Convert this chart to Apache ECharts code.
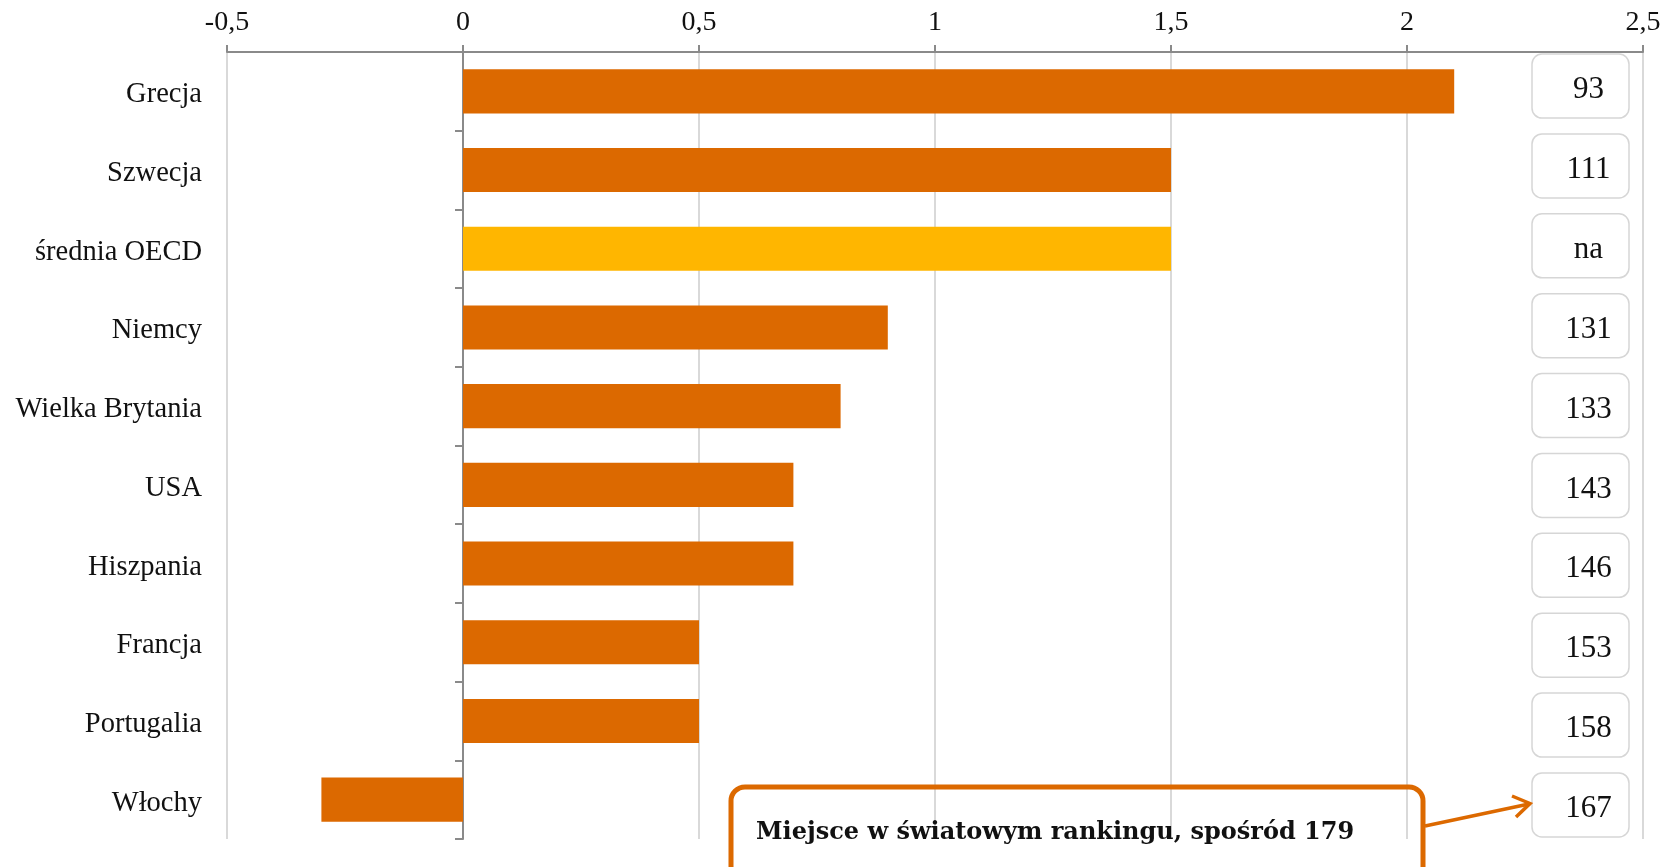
<!DOCTYPE html>
<html>
<head>
<meta charset="utf-8">
<script src="https://cdn.jsdelivr.net/npm/echarts@6/dist/echarts.min.js"></script>
<style>
html,body{margin:0;padding:0;background:#fff;}
#chart{width:1665px;height:867px;}
</style>
</head>
<body>
<div id="chart"></div>
<script>
const categories = ['Grecja','Szwecja','średnia OECD','Niemcy','Wielka Brytania','USA','Hiszpania','Francja','Portugalia','Włochy'];
const values = [2.1, 1.5, 1.5, 0.9, 0.8, 0.7, 0.7, 0.5, 0.5, -0.3];
const ranks = ['93','111','na','131','133','143','146','153','158','167'];
const highlight = 'średnia OECD';
const calloutText = 'Miejsce w światowym rankingu, spośród 179';

const ORANGE = '#DC6900';
const YELLOW = '#FFB600';
const FONT = '"Liberation Serif", serif';

const chart = echarts.init(document.getElementById('chart'));

const option = {
  animation: false,
  backgroundColor: '#fff',
  grid: { left: 227, right: 22, top: 52, bottom: 28 },
  xAxis: {
    type: 'value',
    position: 'top',
    min: -0.5, max: 2.5, interval: 0.5,
    axisLine: { show: true, onZero: false, lineStyle: { color: '#8a8a8a', width: 2 } },
    axisTick: { show: true, length: 7, lineStyle: { color: '#8a8a8a', width: 2 } },
    axisLabel: {
      margin: 15, color: '#111', fontFamily: FONT, fontSize: 28,
      formatter: v => String(v).replace('.', ',')
    },
    splitLine: { show: true, lineStyle: { color: '#cccccc', width: 1.5 } }
  },
  yAxis: [
    {
      type: 'category', inverse: true, data: categories,
      axisLine: { show: false, onZero: false },
      axisTick: { show: false },
      axisLabel: {
        margin: 25, color: '#111', fontFamily: FONT, fontSize: 28.5,
        formatter: v => '{l|' + v + '}',
        rich: { l: { fontFamily: FONT, fontSize: 28.5, color: '#111', padding: [7, 0, 0, 0] } }
      }
    },
    {
      type: 'category', inverse: true, data: categories, position: 'left',
      axisLine: { show: true, onZero: true, lineStyle: { color: '#8a8a8a', width: 2 } },
      axisTick: { show: true, length: 8, lineStyle: { color: '#8a8a8a', width: 2 } },
      axisLabel: { show: false }
    }
  ],
  series: [
    {
      type: 'bar', yAxisIndex: 0, barWidth: '56%',
      data: values.map((v, i) => ({
        value: v,
        itemStyle: { color: categories[i] === highlight ? YELLOW : ORANGE }
      })),
      z: 3
    },
    {
      type: 'custom', yAxisIndex: 0, clip: false, z: 4,
      data: ranks.map((r, i) => ({ value: [0, i], name: r })),
      renderItem: function (params, api) {
        const cs = params.coordSys;
        const mid = cs.y + cs.height / 2;
        const yc = mid + (api.coord([0, api.value(1)])[1] - mid) * 1.015;
        const right = cs.x + cs.width;
        const w = 97, h = 64;
        const x0 = right - 14 - w;
        return {
          type: 'group',
          children: [
            { type: 'rect', shape: { x: x0, y: yc - h / 2, width: w, height: h, r: 10 },
              style: { fill: '#fff', stroke: '#d6d6d6', lineWidth: 1.5 } },
            { type: 'text', style: { x: x0 + w / 2 + 8, y: yc + 4, text: ranks[params.dataIndex],
              fill: '#111', font: '31px "Liberation Serif", serif', align: 'center', verticalAlign: 'middle' } }
          ]
        };
      }
    }
  ],
  graphic: [
    { type: 'rect', z: 100, shape: { x: 731, y: 787, width: 692, height: 100, r: 14 },
      style: { fill: 'rgba(0,0,0,0)', stroke: ORANGE, lineWidth: 5 } },
    { type: 'text', z: 101, style: { x: 756, y: 833, text: calloutText, fill: '#111',
      font: 'bold 24px "DejaVu Serif", serif', verticalAlign: 'middle' } },
    { type: 'line', z: 101, shape: { x1: 1425, y1: 826, x2: 1529, y2: 804 },
      style: { stroke: ORANGE, lineWidth: 3.5 } },
    { type: 'polyline', z: 101, shape: { points: [[1512, 796], [1530, 803.5], [1516, 817]] },
      style: { stroke: ORANGE, lineWidth: 3.5, fill: 'none' } }
  ]
};
chart.setOption(option);
</script>
</body>
</html>
